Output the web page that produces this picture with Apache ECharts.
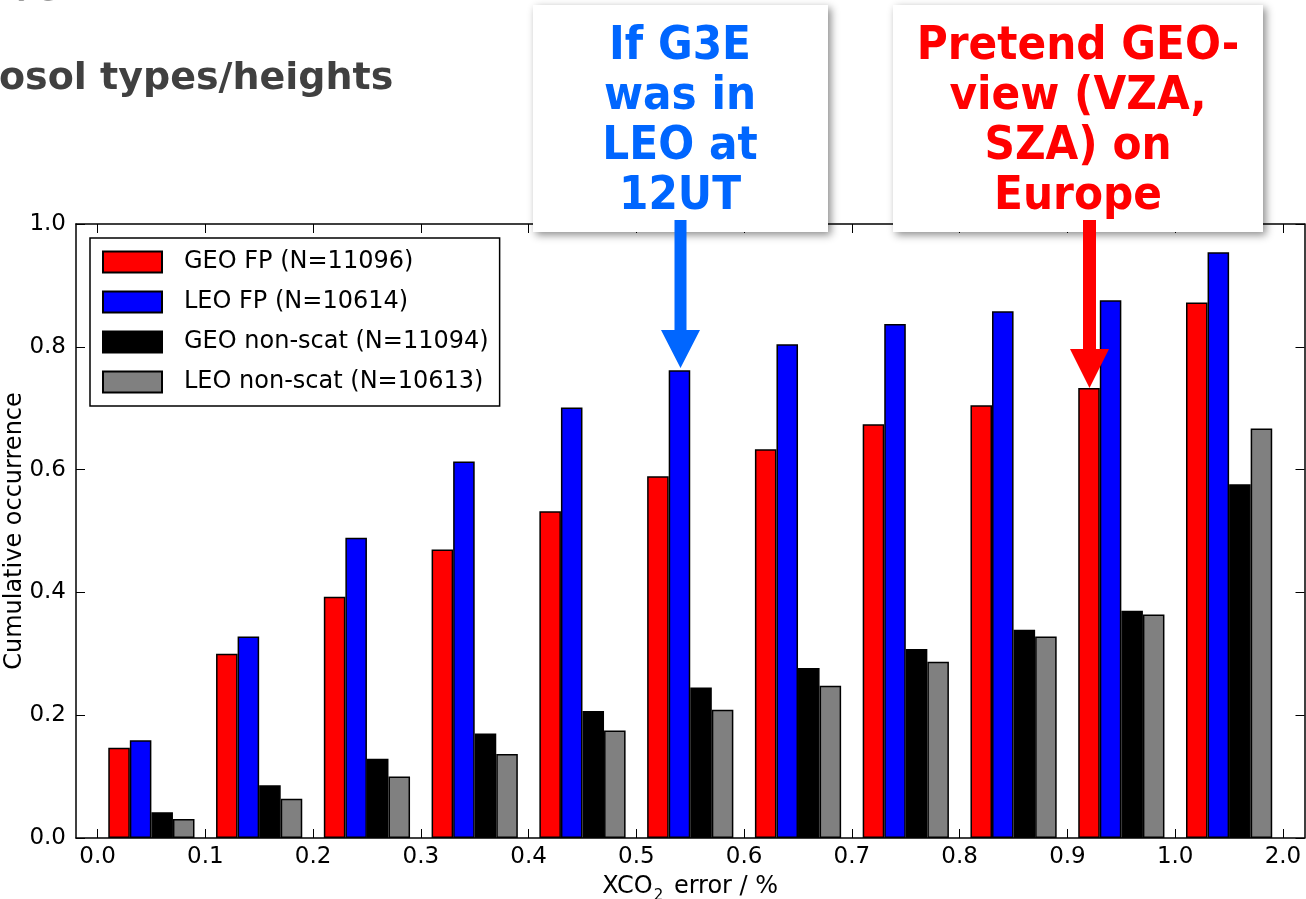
<!DOCTYPE html>
<html>
<head>
<meta charset="utf-8">
<script src="https://cdn.jsdelivr.net/npm/echarts@6/dist/echarts.min.js"></script>
<style>
html,body{margin:0;padding:0;background:#fff;}
#chart{width:1306px;height:899px;}
</style>
</head>
<body>
<div id="chart"></div>
<script>
// ---- data ----
var binCategories = ['0.0-0.1','0.1-0.2','0.2-0.3','0.3-0.4','0.4-0.5','0.5-0.6','0.6-0.7','0.7-0.8','0.8-0.9','0.9-1.0','1.0-2.0'];
var xTickLabels = ['0.0','0.1','0.2','0.3','0.4','0.5','0.6','0.7','0.8','0.9','1.0','2.0'];
var xTickIndex = [0,1,2,3,4,5,6,7,8,9,10,11];
var geoFP   = [0.147, 0.300, 0.393, 0.470, 0.532, 0.589, 0.633, 0.674, 0.705, 0.733, 0.872];
var leoFP   = [0.159, 0.328, 0.489, 0.613, 0.701, 0.762, 0.804, 0.837, 0.858, 0.876, 0.954];
var geoNS   = [0.042, 0.086, 0.129, 0.170, 0.207, 0.245, 0.277, 0.308, 0.339, 0.370, 0.576];
var leoNS   = [0.031, 0.064, 0.100, 0.137, 0.175, 0.209, 0.248, 0.287, 0.328, 0.364, 0.667];
var seriesNames = ['GEO FP (N=11096)','LEO FP (N=10614)','GEO non-scat (N=11094)','LEO non-scat (N=10613)'];
var seriesColors = ['#ff0000','#0000ff','#000000','#808080'];
var blueNote = 'If G3E\nwas in\nLEO at\n12UT';
var redNote = 'Pretend GEO-\nview (VZA,\nSZA) on\nEurope';

var FONT = "'DejaVu Sans', sans-serif";
var chart = echarts.init(document.getElementById('chart'), null, {renderer:'canvas'});

function barSeries(i, data){
  return {
    name: seriesNames[i], type:'bar', xAxisIndex:2, yAxisIndex:2,
    data: data, barGap:'0%', barCategoryGap:'20%',
    itemStyle:{color:seriesColors[i], borderColor:'#000', borderWidth:1.5},
    emphasis:{disabled:true}, animation:false
  };
}

function axisLineStyle(){ return {show:true, onZero:false, lineStyle:{color:'#000', width:1.5}}; }
function tickStyle(extra){ return Object.assign({show:true, inside:true, length:9, lineStyle:{color:'#000', width:1}}, extra||{}); }

var option = {
  animation:false,
  backgroundColor:'#fff',
  grid:[
    {left:76, right:1.5, top:224, bottom:61, outerBoundsMode:'none', containLabel:false},
    {left:97.5, right:23, top:224, bottom:61, outerBoundsMode:'none', containLabel:false}
  ],
  xAxis:[
    {gridIndex:0, type:'value', position:'bottom', min:-0.2, max:11.2,
     axisLine:axisLineStyle(),
     axisTick:tickStyle({customValues:xTickIndex}),
     axisLabel:{customValues:xTickIndex, fontSize:23, fontFamily:FONT, color:'#000', margin:8,
       formatter:function(v){return xTickLabels[Math.round(v)];}},
     splitLine:{show:false},
     name:'XCO{sub|2} error / %', nameLocation:'middle', nameGap:37, nameMoveOverlap:false,
     nameTextStyle:{fontSize:24, fontFamily:FONT, color:'#000', verticalAlign:'top',
       rich:{sub:{fontSize:15, fontFamily:FONT, color:'#000', verticalAlign:'bottom', padding:[0,3,-5,1]}}}
    },
    {gridIndex:0, type:'value', position:'top', min:-0.2, max:11.2,
     axisLine:axisLineStyle(),
     axisTick:tickStyle({customValues:xTickIndex}),
     axisLabel:{show:false}, splitLine:{show:false}},
    {gridIndex:1, type:'category', data:binCategories, show:false}
  ],
  yAxis:[
    {gridIndex:0, type:'value', position:'left', min:0, max:1, interval:0.2,
     axisLine:axisLineStyle(), axisTick:tickStyle(),
     axisLabel:{fontSize:23, fontFamily:FONT, color:'#000', margin:10,
       formatter:function(v){return v.toFixed(1);}},
     splitLine:{show:false},
     name:'Cumulative occurrence', nameLocation:'middle', nameGap:49, nameRotate:90, nameMoveOverlap:false,
     nameTextStyle:{fontSize:24, fontFamily:FONT, color:'#000', verticalAlign:'bottom'}
    },
    {gridIndex:0, type:'value', position:'right', min:0, max:1, interval:0.2,
     axisLine:axisLineStyle(), axisTick:tickStyle(), axisLabel:{show:false}, splitLine:{show:false}},
    {gridIndex:1, type:'value', min:0, max:1, show:false}
  ],
  legend:{
    orient:'vertical', left:90, top:238, padding:[12,11,12,12],
    itemWidth:59, itemHeight:21, itemGap:16,
    borderColor:'#000', borderWidth:1.5, borderRadius:0, backgroundColor:'#fff',
    icon:'rect', selectedMode:false, data:seriesNames,
    textStyle:{fontSize:24, fontFamily:FONT, color:'#000', lineHeight:21, padding:[0,0,0,17]},
    z:10
  },
  series:[barSeries(0, geoFP), barSeries(1, leoFP), barSeries(2, geoNS), barSeries(3, leoNS)],
  graphic:[
    {type:'text', x:-78, y:9, z:100, style:{text:'clouds', font:"bold 38px "+FONT, fill:'#404040', verticalAlign:'bottom'}},
    {type:'text', x:-1, y:79, z:100, style:{text:'osol types/heights', font:"bold 38px "+FONT, fill:'#404040', verticalAlign:'middle'}},
    {type:'rect', z:100, shape:{x:533, y:5, width:295, height:227},
     style:{fill:'#fff', shadowBlur:8, shadowColor:'rgba(0,0,0,0.45)', shadowOffsetX:3, shadowOffsetY:3}},
    {type:'rect', z:100, shape:{x:893, y:5, width:370, height:227},
     style:{fill:'#fff', shadowBlur:8, shadowColor:'rgba(0,0,0,0.45)', shadowOffsetX:3, shadowOffsetY:3}},
    {type:'text', z:101, x:680, y:22, scaleX:0.92,
     style:{text:blueNote, font:"bold 46px "+FONT, fill:'#0066ff', align:'center', verticalAlign:'top', lineHeight:50}},
    {type:'text', z:101, x:1078, y:22, scaleX:0.92,
     style:{text:redNote, font:"bold 46px "+FONT, fill:'#ff0000', align:'center', verticalAlign:'top', lineHeight:50}},
    {type:'polygon', z:101, shape:{points:[[674.5,220],[686.5,220],[686.5,330],[700,330],[680.5,368],[661,330],[674.5,330]]},
     style:{fill:'#0066ff'}},
    {type:'polygon', z:101, shape:{points:[[1083,220],[1096,220],[1096,349],[1109,349],[1089.5,388],[1070,349],[1083,349]]},
     style:{fill:'#ff0000'}}
  ]
};
chart.setOption(option);
</script>
</body>
</html>
